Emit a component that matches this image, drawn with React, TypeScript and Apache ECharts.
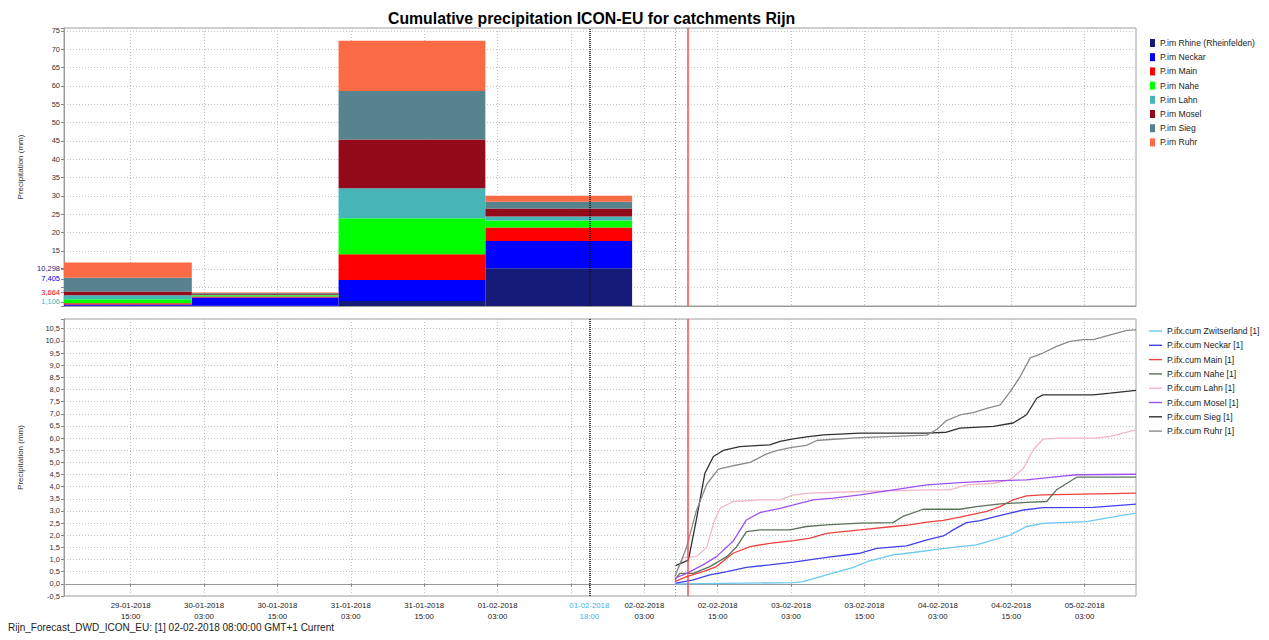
import React, { useEffect, useRef } from 'react';
import * as echarts from 'echarts';

const TITLE = 'Cumulative precipitation ICON-EU for catchments Rijn';
const FOOTER = 'Rijn_Forecast_DWD_ICON_EU: [1] 02-02-2018 08:00:00 GMT+1 Current';
const Y_NAME = 'Precipitation (mm)';

// x values: hours since 29-01-2018 00:00 (GMT+1)
const BASE_TIME = Date.UTC(2018, 0, 29, 0, 0);
const X_MIN = 4.1;
const X_MAX = 179.4;
const TICK_HOURS = [15, 27, 39, 51, 63, 75, 87, 90, 99, 111, 123, 135, 147, 159, 171];
const LABEL_HOURS = [15, 27, 39, 51, 63, 75, 90, 99, 111, 123, 135, 147, 159, 171];
const HIGHLIGHT_HOUR = 90;
const ISSUE_HOUR = 104;
const NOW_HOUR = 106.1;

// top panel: daily accumulations (stacked)
const BAR_START = [1, 25, 49, 73];
const BAR_END = [25, 49, 73, 97];
const BAR_NAMES = [
  'P.im Rhine (Rheinfelden)', 'P.im Neckar', 'P.im Main', 'P.im Nahe',
  'P.im Lahn', 'P.im Mosel', 'P.im Sieg', 'P.im Ruhr',
];
const BAR_COLORS = ['#161b7a', '#0000ff', '#ff0000', '#00ff00', '#45b5b8', '#930a1a', '#56838e', '#f96a45'];
const rhine = [0.1, 0.1, 1.35, 10.298];
const neckar = [0.3, 2.2, 5.75, 7.405];
const mainR = [0.35, 0.3, 7.0, 3.664];
const nahe = [1.1, 0.3, 9.8, 1.9];
const lahn = [1.1, 0.15, 8.2, 1.106];
const mosel = [1.0, 0.35, 13.3, 2.2];
const sieg = [3.75, 0.15, 13.2, 1.85];
const ruhr = [4.15, 0.15, 13.7, 1.65];
const BAR_VALUES = [rhine, neckar, mainR, nahe, lahn, mosel, sieg, ruhr];
const VALUE_LABEL_SERIES = [0, 1, 2, 4];

// bottom panel: cumulative forecast lines [hour, mm]
const LINE_NAMES = [
  'P.ifx.cum Zwitserland [1]', 'P.ifx.cum Neckar [1]', 'P.ifx.cum Main [1]', 'P.ifx.cum Nahe [1]',
  'P.ifx.cum Lahn [1]', 'P.ifx.cum Mosel [1]', 'P.ifx.cum Sieg [1]', 'P.ifx.cum Ruhr [1]',
];
const LINE_COLORS = ['#6cc8f4', '#4040ee', '#f04040', '#5a715a', '#f5b5c8', '#a050f0', '#303030', '#8a8a8a'];
const zwitserlandCum = [[104.0, 0.0], [112.5, 0.02], [123.4, 0.05], [125.0, 0.09], [128.8, 0.37], [133.2, 0.68], [135.4, 0.91], [139.7, 1.19], [143.0, 1.29], [146.8, 1.42], [150.6, 1.53], [153.3, 1.6], [156.1, 1.81], [158.8, 2.01], [161.5, 2.36], [164.2, 2.49], [167.0, 2.52], [171.3, 2.56], [175.2, 2.74], [179.4, 2.91]];
const neckarCum = [[104.0, 0.02], [107.0, 0.16], [109.7, 0.37], [112.5, 0.5], [115.7, 0.68], [119.5, 0.78], [123.4, 0.89], [128.8, 1.09], [134.3, 1.26], [137.0, 1.46], [141.9, 1.56], [145.2, 1.81], [147.9, 1.97], [149.5, 2.22], [151.7, 2.52], [153.9, 2.6], [156.1, 2.75], [158.8, 2.91], [161.0, 3.04], [164.2, 3.14], [172.4, 3.15], [179.4, 3.28]];
const mainCum = [[104.0, 0.09], [105.9, 0.3], [108.6, 0.5], [110.8, 0.71], [113.5, 1.26], [116.3, 1.53], [119.5, 1.67], [123.4, 1.78], [126.1, 1.88], [128.8, 2.08], [131.5, 2.15], [134.3, 2.22], [139.7, 2.36], [142.4, 2.43], [145.2, 2.54], [147.9, 2.61], [150.6, 2.75], [155.0, 2.98], [157.2, 3.18], [159.3, 3.46], [161.5, 3.62], [164.2, 3.66], [179.4, 3.73]];
const naheCum = [[104.0, 0.16], [104.8, 0.43], [107.0, 0.43], [109.7, 0.71], [112.5, 1.12], [114.1, 1.53], [115.7, 2.15], [117.9, 2.22], [122.8, 2.22], [125.5, 2.36], [128.8, 2.43], [134.3, 2.5], [139.7, 2.52], [141.3, 2.78], [144.6, 3.07], [150.6, 3.07], [153.3, 3.18], [157.2, 3.29], [161.5, 3.35], [164.8, 3.39], [166.4, 3.87], [169.7, 4.39], [179.4, 4.39]];
const lahnCum = [[104.0, 0.37], [105.4, 1.09], [107.5, 1.12], [109.2, 1.5], [110.5, 2.63], [111.4, 3.11], [113.5, 3.39], [117.9, 3.46], [121.2, 3.46], [123.4, 3.66], [126.1, 3.73], [134.3, 3.8], [145.2, 3.87], [149.0, 3.87], [151.7, 4.07], [156.1, 4.14], [158.8, 4.28], [161.0, 4.76], [162.6, 5.52], [164.2, 5.96], [167.0, 6.0], [172.4, 6.0], [175.2, 6.07], [179.4, 6.34]];
const moselCum = [[104.0, 0.23], [105.9, 0.43], [108.6, 0.78], [110.8, 1.12], [113.5, 1.75], [115.7, 2.63], [117.9, 2.93], [121.2, 3.11], [123.4, 3.25], [126.6, 3.46], [129.9, 3.53], [134.3, 3.66], [139.7, 3.87], [145.2, 4.07], [150.6, 4.17], [156.1, 4.24], [161.5, 4.28], [167.0, 4.42], [169.7, 4.49], [179.4, 4.51]];
const siegCum = [[104.0, 0.74], [106.2, 0.98], [107.5, 2.63], [108.9, 4.55], [110.3, 5.24], [111.9, 5.49], [114.6, 5.65], [119.5, 5.72], [121.2, 5.86], [123.1, 5.96], [125.5, 6.05], [128.3, 6.13], [134.3, 6.2], [145.2, 6.2], [148.4, 6.24], [150.6, 6.41], [156.1, 6.48], [159.3, 6.62], [161.5, 6.96], [163.2, 7.65], [164.2, 7.78], [172.4, 7.78], [175.2, 7.85], [179.4, 7.96]];
const ruhrCum = [[104.0, 0.3], [105.9, 1.5], [107.5, 3.0], [109.2, 4.1], [111.1, 4.72], [113.5, 4.86], [116.3, 5.0], [119.0, 5.35], [120.6, 5.48], [123.1, 5.62], [125.5, 5.7], [127.2, 5.9], [128.8, 5.93], [134.3, 6.02], [139.7, 6.07], [145.2, 6.12], [146.8, 6.35], [148.4, 6.72], [150.6, 6.95], [152.8, 7.05], [155.0, 7.22], [157.2, 7.37], [158.8, 7.9], [160.4, 8.5], [162.1, 9.3], [164.2, 9.5], [166.4, 9.77], [168.6, 9.98], [170.8, 10.05], [172.4, 10.05], [175.2, 10.25], [177.9, 10.43], [179.4, 10.45]];
const LINE_VALUES = [zwitserlandCum, neckarCum, mainCum, naheCum, lahnCum, moselCum, siegCum, ruhrCum];

const TOP_Y = { min: 0, max: 75.75, interval: 5, labelFrom: 15, labelTo: 75 };
const BOT_Y = { min: -0.5, max: 10.9, interval: 0.5, labelTo: 10.5 };

const FONT = 'Liberation Sans, Arial, sans-serif';
const LABEL_COLOR = '#333';
const GRID_LINE = { color: '#c4c4c4', type: [1, 2], width: 1 };

const pad = (n: number) => (n < 10 ? '0' + n : '' + n);
const fmtHour = (v: number) => {
  const d = new Date(BASE_TIME + v * 3600e3);
  return `${pad(d.getUTCDate())}-${pad(d.getUTCMonth() + 1)}-${d.getUTCFullYear()}\n${pad(d.getUTCHours())}:${pad(d.getUTCMinutes())}`;
};

export default function App() {
  const ref = useRef<HTMLDivElement>(null);
  useEffect(() => {
    if (!ref.current) return;
    const chart = echarts.init(ref.current, undefined, { renderer: 'svg' });

    const valueLabels = VALUE_LABEL_SERIES.map((i) => BAR_VALUES[i][BAR_VALUES[i].length - 1]);
    const valueLabelColor = (v: any) => {
      const x = parseFloat(v);
      let best = 0;
      valueLabels.forEach((lv, k) => {
        if (Math.abs(lv - x) < Math.abs(valueLabels[best] - x)) best = k;
      });
      return BAR_COLORS[VALUE_LABEL_SERIES[best]];
    };

    const barSeries = BAR_NAMES.map((name, k) => ({
      type: 'custom',
      name,
      xAxisIndex: 0,
      yAxisIndex: 0,
      color: BAR_COLORS[k],
      clip: true,
      encode: { x: [0, 1], y: [2, 3] },
      data: BAR_START.map((s, i) => {
        let base = 0;
        for (let j = 0; j < k; j++) base += BAR_VALUES[j][i];
        return [s, BAR_END[i], base, base + BAR_VALUES[k][i]];
      }),
      renderItem: (params: any, api: any) => {
        const x0 = Math.max(api.value(0), X_MIN);
        const x1 = Math.min(api.value(1), X_MAX);
        const p0 = api.coord([x0, api.value(3)]);
        const p1 = api.coord([x1, api.value(2)]);
        return {
          type: 'rect',
          shape: { x: p0[0], y: p0[1], width: p1[0] - p0[0], height: p1[1] - p0[1] },
          style: { fill: api.visual('color') },
        };
      },
    }));

    const markLine = {
      silent: true,
      symbol: ['none', 'none'],
      label: { show: false },
      animation: false,
      data: [
        { xAxis: HIGHLIGHT_HOUR, lineStyle: { color: '#111', type: [1, 1], width: 1.5 } },
        { xAxis: ISSUE_HOUR, lineStyle: { color: '#999', type: [1, 2], width: 1 } },
        { xAxis: NOW_HOUR, lineStyle: { color: '#f05050', type: 'solid', width: 1.5 } },
      ],
    };

    const lineSeries = LINE_NAMES.map((name, k) => ({
      type: 'line',
      name,
      xAxisIndex: 1,
      yAxisIndex: 2,
      color: LINE_COLORS[k],
      symbol: 'none',
      showSymbol: false,
      lineStyle: { width: 1.3, color: LINE_COLORS[k] },
      data: LINE_VALUES[k],
      z: 3,
    }));

    const xAxisBase = (gridIndex: number, showLabels: boolean) => ({
      type: 'value',
      gridIndex,
      min: X_MIN,
      max: X_MAX,
      axisLine: { show: true, lineStyle: { color: '#999' } },
      axisTick: { show: showLabels, customValues: TICK_HOURS, length: 3, lineStyle: { color: '#888' } },
      splitLine: { show: true, lineStyle: GRID_LINE },
      axisLabel: {
        show: showLabels,
        customValues: LABEL_HOURS,
        formatter: (v: number) => fmtHour(Number(v)),
        fontSize: 7.8,
        lineHeight: 11,
        fontFamily: FONT,
        margin: 4,
        color: (v: any) => (Math.abs(parseFloat(v) - HIGHLIGHT_HOUR) < 0.01 ? '#3cb4e6' : '#222'),
      },
    });

    const option: any = {
      animation: false,
      backgroundColor: '#fff',
      textStyle: { fontFamily: FONT },
      title: {
        text: TITLE,
        left: 383,
        top: 5,
        textStyle: { fontSize: 15.8, fontWeight: 'bold', color: '#000', fontFamily: FONT },
      },
      grid: [
        { left: 64, right: 133, top: 28, height: 278, show: true, borderColor: '#a0a0a0', borderWidth: 1, backgroundColor: 'transparent' },
        { left: 64, right: 133, top: 319, height: 277, show: true, borderColor: '#a0a0a0', borderWidth: 1, backgroundColor: 'transparent' },
      ],
      legend: [
        {
          data: BAR_NAMES,
          orient: 'vertical',
          left: 1145,
          top: 32,
          icon: 'rect',
          itemWidth: 5,
          itemHeight: 8,
          itemGap: 2.2,
          textStyle: { fontSize: 8.6, lineHeight: 12, color: '#222', fontFamily: FONT },
        },
        {
          data: LINE_NAMES,
          orient: 'vertical',
          left: 1144,
          top: 320,
          icon: 'rect',
          itemWidth: 13,
          itemHeight: 1.4,
          itemGap: 2.3,
          textStyle: { fontSize: 8.6, lineHeight: 12, color: '#222', fontFamily: FONT },
        },
      ],
      xAxis: [xAxisBase(0, false), xAxisBase(1, true)],
      yAxis: [
        {
          type: 'value',
          gridIndex: 0,
          min: TOP_Y.min,
          max: TOP_Y.max,
          interval: TOP_Y.interval,
          name: Y_NAME,
          nameLocation: 'middle',
          nameGap: 40,
          nameTextStyle: { fontSize: 8, color: LABEL_COLOR, fontFamily: FONT },
          axisLine: { show: true, lineStyle: { color: '#999' } },
          axisTick: { show: true, length: 3, lineStyle: { color: '#888' } },
          splitLine: { show: true, lineStyle: GRID_LINE },
          axisLabel: {
            fontSize: 7.5,
            fontFamily: FONT,
            color: LABEL_COLOR,
            margin: 4,
            formatter: (v: number) => (v >= TOP_Y.labelFrom && v <= TOP_Y.labelTo ? String(v) : ''),
          },
        },
        {
          type: 'value',
          gridIndex: 0,
          min: TOP_Y.min,
          max: TOP_Y.max,
          position: 'left',
          axisLine: { show: false },
          splitLine: { show: false },
          axisTick: { show: true, customValues: valueLabels, length: 3, lineStyle: { color: '#888' } },
          axisLabel: {
            customValues: valueLabels,
            fontSize: 7.5,
            fontFamily: FONT,
            margin: 4,
            color: valueLabelColor,
            formatter: (v: number) => Number(v).toFixed(3).replace('.', ','),
          },
        },
        {
          type: 'value',
          gridIndex: 1,
          min: BOT_Y.min,
          max: BOT_Y.max,
          interval: BOT_Y.interval,
          name: Y_NAME,
          nameLocation: 'middle',
          nameGap: 40,
          nameTextStyle: { fontSize: 8, color: LABEL_COLOR, fontFamily: FONT },
          axisLine: { show: true, lineStyle: { color: '#999' } },
          axisTick: { show: true, length: 3, lineStyle: { color: '#888' } },
          splitLine: { show: true, lineStyle: GRID_LINE },
          axisLabel: {
            fontSize: 7.5,
            fontFamily: FONT,
            color: LABEL_COLOR,
            margin: 4,
            formatter: (v: number) => (v <= BOT_Y.labelTo + 1e-9 ? Number(v).toFixed(1).replace('.', ',') : ''),
          },
        },
      ],
      graphic: [
        {
          type: 'text',
          left: 8,
          top: 622,
          style: { text: FOOTER, fontSize: 10, fill: '#222', fontFamily: FONT },
        },
      ],
      series: [
        ...barSeries,
        { type: 'line', name: 'markers-top', xAxisIndex: 0, yAxisIndex: 0, data: [], markLine },
        { type: 'line', name: 'markers-bottom', xAxisIndex: 1, yAxisIndex: 2, data: [], markLine },
        ...lineSeries,
      ],
    };
    chart.setOption(option);
    return () => chart.dispose();
  }, []);
  return <div ref={ref} style={{ position: 'fixed', left: 0, top: 0, width: 1269, height: 640 }} />;
}
